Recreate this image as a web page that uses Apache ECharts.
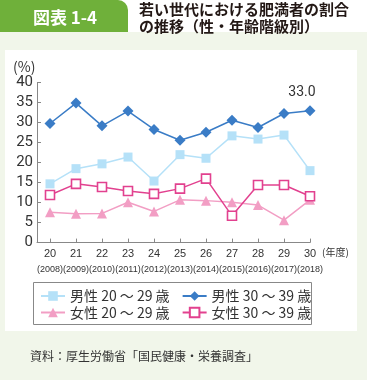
<!DOCTYPE html>
<html><head><meta charset="utf-8">
<script src="https://cdn.jsdelivr.net/npm/echarts@6/dist/echarts.min.js"></script>
<style>html,body{margin:0;padding:0;background:#f1f6ea;}#c{width:367px;height:380px;}</style>
</head><body><div id="c"></div>
<script>
const fiscalYears = [20, 21, 22, 23, 24, 25, 26, 27, 28, 29, 30];
const westernYears = ['2008','2009','2010','2011','2012','2013','2014','2015','2016','2017','2018'];
const yTicks = [0, 5, 10, 15, 20, 25, 30, 35, 40];
const seriesNames = ['男性 20 ～ 29 歳', '男性 30 ～ 39 歳', '女性 20 ～ 29 歳', '女性 30 ～ 39 歳'];
const male20s   = [14.7, 18.5, 19.7, 21.4, 15.4, 22.0, 21.1, 26.7, 25.9, 26.9, 18.0];
const male30s   = [29.8, 34.9, 29.2, 32.9, 28.3, 25.6, 27.6, 30.6, 28.8, 32.3, 33.0];
const female20s = [7.6, 7.2, 7.3, 10.1, 7.8, 10.7, 10.5, 10.1, 9.4, 5.6, 10.7];
const female30s = [11.9, 14.7, 13.9, 12.9, 12.2, 13.5, 16.0, 6.7, 14.4, 14.4, 11.6];

const pairs = arr => arr.map((v, i) => [fiscalYears[i], v]);
const yearIndex = {};
fiscalYears.forEach((y, i) => yearIndex[y] = i);

const jp = '"Noto Sans CJK JP", "Noto Sans", sans-serif';
const chart = echarts.init(document.getElementById('c'), null, {renderer: 'canvas'});

const male30Data = pairs(male30s);
male30Data[male30Data.length - 1] = {
  value: male30Data[male30Data.length - 1],
  label: {show: true, position: 'top', offset: [-8, -1], formatter: p => p.value[1].toFixed(1),
          color: '#333', fontSize: 14, fontFamily: 'Roboto, sans-serif'}
};

chart.setOption({
  animation: false,
  backgroundColor: '#f1f6ea',
  graphic: [
    {type: 'rect', shape: {x: 0, y: 0, width: 367, height: 32}, style: {fill: '#ffffff'}, z: -10},
    {type: 'rect', shape: {x: -12, y: 0, width: 140, height: 32, r: [0, 10, 0, 0]}, style: {fill: '#6fb03a'}, z: -9},
    {type: 'text', x: 65, y: 18, style: {text: '図表 1-4', fill: '#fff', font: 'bold 17px ' + jp, align: 'center', verticalAlign: 'middle'}},
    {type: 'text', x: 139, y: 1, style: {text: '若い世代における肥満者の割合\nの推移（性・年齢階級別）', fill: '#231815', font: 'bold 15px ' + jp, lineHeight: 17}},
    {type: 'rect', shape: {x: 5, y: 50, width: 352, height: 281}, style: {fill: '#ffffff'}, z: -9},
    {type: 'text', x: 13, y: 60, style: {text: '(%)', fill: '#333', font: '14px ' + jp}},
    {type: 'text', x: 322, y: 252, style: {text: '(年度)', fill: '#333', font: '10px ' + jp, verticalAlign: 'middle'}},
    {type: 'rect', shape: {x: 33.5, y: 282.5, width: 278, height: 42}, style: {fill: 'none', stroke: '#888', lineWidth: 1}},
    {type: 'text', x: 30, y: 356, style: {text: '資料：厚生労働省「国民健康・栄養調査」', fill: '#333', font: '12px ' + jp, verticalAlign: 'middle'}}
  ],
  legend: [
    {data: [seriesNames[0], seriesNames[1]], left: 40, top: 289, itemGap: 12, itemWidth: 24, itemHeight: 12,
     textStyle: {color: '#333', fontSize: 14, fontFamily: jp}, padding: 0},
    {data: [seriesNames[2], seriesNames[3]], left: 40, top: 305.5, itemGap: 12, itemWidth: 24, itemHeight: 12,
     textStyle: {color: '#333', fontSize: 14, fontFamily: jp}, padding: 0}
  ],
  grid: {left: 37, right: 57, top: 82.7, bottom: 137.4, containLabel: false, outerBoundsMode: 'none'},
  xAxis: {
    type: 'value', min: 19.5, max: 30,
    axisLine: {lineStyle: {color: '#888'}},
    axisTick: {inside: true, length: 4, lineStyle: {color: '#888'}, customValues: fiscalYears},
    axisLabel: {customValues: fiscalYears, showMinLabel: true, showMaxLabel: true, hideOverlap: false,
      interval: 0, margin: 3, color: '#333',
      formatter: v => '{a|' + v + '}\n{b|(' + westernYears[yearIndex[v]] + ')}',
      rich: {
        a: {fontSize: 11, lineHeight: 16, color: '#333', fontFamily: '"Liberation Sans", sans-serif'},
        b: {fontSize: 9, lineHeight: 16, color: '#333', fontFamily: '"Liberation Sans", sans-serif'}
      }},
    splitLine: {show: false}
  },
  yAxis: {
    type: 'value', min: 0, max: 40, interval: 5,
    axisLine: {show: true, lineStyle: {color: '#888'}},
    axisTick: {show: true, inside: true, length: 4, lineStyle: {color: '#888'}},
    axisLabel: {color: '#333', fontSize: 15, margin: 4, fontFamily: 'Roboto, sans-serif',
      formatter: v => yTicks.includes(v) ? String(v) : ''},
    splitLine: {show: false}
  },
  series: [
    {name: seriesNames[0], type: 'line', data: pairs(male20s), symbol: 'rect', symbolSize: 9,
     itemStyle: {color: '#b5e1f8'}, lineStyle: {color: '#b5e1f8', width: 1.5}, z: 2},
    {name: seriesNames[1], type: 'line', data: male30Data, symbol: 'diamond', symbolSize: 11,
     itemStyle: {color: '#3a7cc6'}, lineStyle: {color: '#3a7cc6', width: 1.5}, z: 5},
    {name: seriesNames[2], type: 'line', data: pairs(female20s), symbol: 'triangle', symbolSize: 10,
     itemStyle: {color: '#f29ec4'}, lineStyle: {color: '#f29ec4', width: 1.5}, z: 3},
    {name: seriesNames[3], type: 'line', data: pairs(female30s), symbol: 'rect', symbolSize: 9,
     itemStyle: {color: '#ffffff', borderColor: '#e2418f', borderWidth: 1.6}, lineStyle: {color: '#e2418f', width: 1.5}, z: 4}
  ]
});
</script></body></html>
